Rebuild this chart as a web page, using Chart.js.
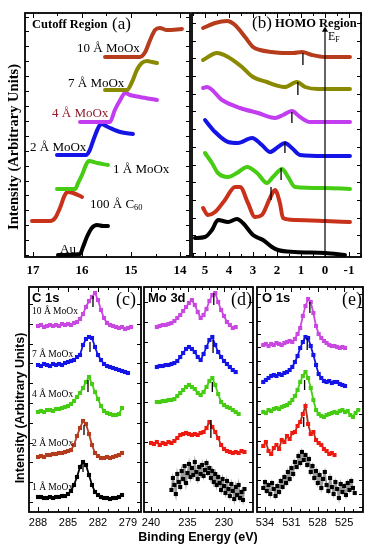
<!DOCTYPE html>
<html>
<head>
<meta charset="utf-8">
<script src="https://cdn.jsdelivr.net/npm/chart.js@4.4.1/dist/chart.umd.min.js"></script>
<style>
  body { margin: 0; background: #fff; }
  #fig { position: relative; width: 372px; height: 550px; overflow: hidden; }
  canvas { position: absolute; }
  .t { position: absolute; white-space: nowrap; line-height: 1; color: #000; transform: translateY(-50%); }
  .c { transform: translate(-50%, -50%); }
  .r { transform: translate(-50%, -50%) rotate(-90deg); }
  .serif { font-family: "Liberation Serif", "DejaVu Serif", serif; }
  .sans { font-family: "Liberation Sans", Arial, sans-serif; }
  .b { font-weight: bold; }
  sub { font-size: 0.65em; vertical-align: -0.3em; line-height: 0; }
</style>
</head>
<body>
<div id="fig">
  <canvas id="chartA" width="181" height="272" style="left:17px;top:7px"></canvas>
  <canvas id="chartB" width="185" height="272" style="left:184px;top:7px"></canvas>
  <canvas id="chartC" width="128" height="248" style="left:21px;top:282px"></canvas>
  <canvas id="chartD" width="125" height="248" style="left:136px;top:282px"></canvas>
  <canvas id="chartE" width="122" height="248" style="left:249px;top:282px"></canvas>

  <!-- top panels -->
  <div class="t r serif b" style="left:13px;top:147px;font-size:14.5px">Intensity (Arbitrary Units)</div>
  <div class="t serif b" style="left:32px;top:24px;font-size:12.5px">Cutoff Region</div>
  <div class="t serif" style="left:112px;top:23px;font-size:17px">(a)</div>
  <div class="t serif" style="left:77px;top:47px;font-size:13px">10 Å MoOx</div>
  <div class="t serif" style="left:68px;top:82px;font-size:13px">7 Å MoOx</div>
  <div class="t serif" style="left:52px;top:112px;font-size:13px;color:#8c1c2c">4 Å MoOx</div>
  <div class="t serif" style="left:30px;top:146px;font-size:13px">2 Å MoOx</div>
  <div class="t serif" style="left:113px;top:168px;font-size:13px">1 Å MoOx</div>
  <div class="t serif" style="left:90px;top:203px;font-size:13px">100 Å C<sub>60</sub></div>
  <div class="t serif" style="left:60px;top:248px;font-size:13px">Au</div>
  <div class="t serif" style="left:252px;top:22px;font-size:17px">(b)</div>
  <div class="t serif b" style="left:275px;top:23px;font-size:12.5px">HOMO Region</div>
  <div class="t serif" style="left:328px;top:36px;font-size:12px">E<sub>F</sub></div>

  <!-- bottom panels -->
  <div class="t r sans b" style="left:20px;top:408px;font-size:12.5px">Intensity (Arbitrary Units)</div>
  <div class="t c sans b" style="left:198px;top:537px;font-size:12.5px">Binding Energy (eV)</div>
  <div class="t sans b" style="left:32px;top:297px;font-size:13px">C 1s</div>
  <div class="t serif" style="left:116px;top:299px;font-size:18px">(c)</div>
  <div class="t sans b" style="left:148px;top:297px;font-size:13px">Mo 3d</div>
  <div class="t serif" style="left:231px;top:299px;font-size:18px">(d)</div>
  <div class="t sans b" style="left:262px;top:297px;font-size:13px">O 1s</div>
  <div class="t serif" style="left:342px;top:299px;font-size:18px">(e)</div>
  <div class="t serif" style="left:32px;top:312px;font-size:9.5px">10 Å MoOx</div>
  <div class="t serif" style="left:32px;top:355px;font-size:9.5px">7 Å MoOx</div>
  <div class="t serif" style="left:32px;top:395px;font-size:9.5px">4 Å MoOx</div>
  <div class="t serif" style="left:32px;top:444px;font-size:9.5px">2 Å MoOx</div>
  <div class="t serif" style="left:32px;top:488px;font-size:9.5px">1 Å MoOx</div>
</div>

<script>
"use strict";

//--tick labels--
const ticksA = [17, 16, 15, 14];
const ticksB = [5, 4, 3, 2, 1, 0, -1];
const ticksC = [288, 285, 282, 279];
const ticksD = [240, 235, 230];
const ticksE = [534, 531, 528, 525];

//--(a) cutoff region: kinetic energy (eV) / intensity (a.u., stacked)--
const cutAuE  = [16.49, 16.04, 15.98, 15.90, 15.80, 15.69, 15.57, 15.47];
const cutAu   = [2, 3, 10, 20, 29, 32, 31, 31];
const cutC60E = [17.02, 16.65, 16.55, 16.45, 16.35, 16.29, 16.18, 16.0];
const cutC60  = [36, 36, 39, 49, 62, 65, 64, 60];
const cut1E   = [16.51, 16.14, 16.08, 16.0, 15.92, 15.86, 15.69, 15.47];
const cut1    = [68, 68, 74, 82, 92, 96, 94, 92];
const cut2E   = [16.51, 15.92, 15.84, 15.76, 15.67, 15.61, 15.47, 15.22, 14.96];
const cut2    = [102, 102, 107, 118, 129, 133, 130, 125, 123];
const cut4E   = [16.04, 15.43, 15.33, 15.22, 15.12, 15.02, 14.82, 14.47];
const cut4    = [135, 135, 147, 157, 164, 162, 160, 157];
const cut7E   = [15.53, 15.08, 14.98, 14.88, 14.78, 14.67, 14.57, 14.47];
const cut7    = [167, 167, 175, 187, 194, 196, 195, 194];
const cut10E  = [15.53, 14.82, 14.71, 14.61, 14.51, 14.41, 14.27, 13.96];
const cut10   = [200, 200, 205, 217, 227, 229, 227, 228];

//--(b) HOMO region: binding energy (eV)--
const homo10E  = [5.08, 4.58, 4.08, 3.75, 3.33, 3.0, 2.71, 2.21, 1.79, 1.33, 0.96, 0.54, 0.0, -1.04];
const homo10   = [229, 234, 236, 232, 220, 210, 207, 205, 204, 204, 205, 202, 200, 200];
const homo7E   = [5.08, 4.5, 4.04, 3.46, 3.0, 2.42, 2.08, 1.67, 1.17, 0.83, 0.29, -1.04];
const homo7    = [197, 204, 200, 190, 180, 175, 172, 170, 175, 170, 168, 168];
const homo4E   = [5.08, 4.92, 4.29, 3.54, 2.79, 2.08, 1.75, 1.38, 1.04, 0.63, -1.04];
const homo4    = [169, 170, 157, 149, 144, 139, 142, 146, 140, 135, 135];
const homo2E   = [5.0, 4.58, 4.04, 3.63, 3.04, 2.63, 2.29, 1.96, 1.67, 1.38, 1.04, 0.0, -1.04];
const homo2    = [137, 125, 115, 114, 119, 112, 105, 110, 114, 109, 102, 101, 101];
const homo1E   = [5.0, 4.71, 4.46, 4.04, 3.67, 3.25, 2.83, 2.42, 2.17, 1.79, 1.54, 1.25, 0.0, -1.04];
const homo1    = [104, 94, 84, 80, 84, 90, 84, 74, 80, 88, 80, 70, 69, 68];
const homoC60E = [5.08, 4.88, 4.58, 4.17, 3.75, 3.54, 3.21, 2.92, 2.63, 2.29, 2.08, 1.88, 1.75, 1.25, 0.0, -1.04];
const homoC60  = [49, 42, 45, 57, 70, 70, 54, 40, 42, 59, 67, 54, 39, 37, 36, 35];
const homoAuE  = [5.42, 5.0, 4.71, 4.46, 4.04, 3.67, 3.42, 3.0, 2.58, 2.21, 1.96, 1.25, 0.0, -0.83];
const homoAu   = [19, 20, 27, 37, 35, 38, 34, 22, 17, 10, 7, 5, 4, 2];
// HOMO onset markers
const homoMarkE   = [0.92, 1.13, 1.38, 1.67, 1.83, 2.25];
const homoMarkTop = [204, 175, 145, 115, 89, 70];
const homoMarkBot = [192, 162, 134, 104, 77, 57];
const efTop = 227;

//--(c) C 1s--
const c1sE = [288.0, 287.7, 287.4, 287.1, 286.8, 286.5, 286.2, 285.9, 285.6, 285.3, 285.0, 284.7, 284.4, 284.1, 283.8, 283.5,
              283.2, 282.9, 282.6, 282.3, 282.0, 281.7, 281.4, 281.1, 280.8, 280.5, 280.2, 279.9, 279.6, 279.3, 279.0, 278.7];
const c1s10 = [186, 187, 185, 186, 187, 186, 187, 186, 188, 187, 188, 187, 189, 190, 193, 198,
               205, 211, 215, 219, 212, 202, 194, 189, 187, 186, 185, 184, 185, 183, 184, 185];
const c1s7  = [147, 146, 148, 147, 146, 148, 147, 148, 147, 149, 150, 151, 152, 155, 157, 167,
               173, 175, 174, 165, 157, 152, 148, 146, 145, 144, 143, 142, 141, 140, 139, null];
const c1s4  = [100, 101, 100, 102, 102, 101, 103, 103, 104, 105, 106, 108, 111, 115, 119, 124,
               130, 135, 128, 120, 113, 106, 101, 99, 98, 97, 97, 98, 104, null, null, null];
const c1s2  = [55, 56, 55, 57, 57, 58, 58, 59, 59, 60, 61, 62, 67, 76, 84, 91,
               88, 78, 67, 59, 56, 54, 54, 55, 54, 55, 56, 57, 59, null, null, null];
const c1s1  = [15, 15, 14, 14, 15, 14, 15, 15, 16, 16, 18, 21, 27, 35, 45, 50,
               47, 37, 27, 20, 17, 15, 14, 14, 13, 14, 14, 15, 17, null, null, null];
const c1sMarkE   = [282.5, 282.8, 283.0, 283.4, 283.5];
const c1sMarkTop = [216, 170, 132, 87, 49];
const c1sMarkBot = [205, 160, 120, 77, 40];

//--(d) Mo 3d--
const moE = [240.0, 239.6, 239.2, 238.8, 238.4, 238.0, 237.6, 237.2, 236.8, 236.4, 236.0, 235.6, 235.2, 234.8, 234.4, 234.0, 233.6,
             233.2, 232.8, 232.4, 232.0, 231.6, 231.2, 230.8, 230.4, 230.0, 229.6, 229.2, 228.8, 228.4, 228.0, 227.6, 227.2, 226.8];
const mo10 = [null, null, 185, 186, 187, 187, 188, 189, 191, 194, 197, 201, 205, 209, 212, 207, 200,
              194, 197, 203, 211, 217, 219, 210, 202, 196, 190, 187, 184, 185, null, null, null, null];
const mo7  = [null, null, 145, 146, 146, 147, 147, 148, 149, 151, 155, 159, 163, 165, 163, 160, 155,
              152, 158, 165, 172, 175, 167, 160, 155, 151, 148, 145, 142, 140, null, null, null, null];
const mo4  = [null, null, 110, 110, 111, 111, 112, 112, 113, 116, 119, 122, 125, 127, 125, 123, 119,
              117, 120, 125, 131, 134, 127, 118, 110, 107, 105, 104, 102, 100, 98, null, null, null];
const mo2  = [69, 68, 70, 67, 69, 68, 70, 69, 71, 74, 77, 78, 79, 78, 77, 78, 77,
              79, 80, 84, 90, 85, 80, 74, 67, 63, 61, 60, 59, 60, 59, 61, 60, null];
const moAuE = [237.2, 237.0, 236.8, 236.6, 236.4, 236.2, 236.0, 235.8, 235.6, 235.4, 235.2, 235.0, 234.8, 234.6, 234.4, 234.2, 234.0,
               233.8, 233.6, 233.4, 233.2, 233.0, 232.8, 232.6, 232.4, 232.2, 232.0, 231.8, 231.6, 231.4, 231.2, 231.0, 230.8,
               230.6, 230.4, 230.2, 230.0, 229.8, 229.6, 229.4, 229.2, 229.0, 228.8, 228.6, 228.4, 228.2, 228.0, 227.8, 227.6, 227.4, 227.2];
const moAu  = [22, 34, 27, 18, 38, 30, 25, 41, 33, 46, 29, 39, 48, 35, 44, 37, 50,
               40, 33, 45, 38, 47, 36, 42, 49, 39, 44, 34, 41, 30, 38, 27, 35,
               29, 22, 33, 26, 19, 31, 23, 16, 28, 21, 13, 25, 17, 27, 14, 20, 12, 23];
const moMarkE   = [231.4, 231.5, 231.6, 231.8];
const moMarkTop = [219, 172, 130, 92];
const moMarkBot = [207, 159, 120, 74];

//--(e) O 1s--
const oE = [534.2, 533.9, 533.6, 533.3, 533.0, 532.7, 532.4, 532.1, 531.8, 531.5, 531.2, 530.9, 530.6, 530.3, 530.0, 529.7, 529.4, 529.1, 528.8,
            528.5, 528.2, 527.9, 527.6, 527.3, 527.0, 526.7, 526.4, 526.1, 525.8, 525.5, 525.2, 524.9, 524.6, 524.3, 524.0, 523.7, 523.4];
const o10 = [167, 168, 166, 168, 167, 169, 168, 167, 169, 170, 171, 170, 173, 178, 184, 196, 206, 213, 210,
             199, 186, 178, 174, 171, 169, 167, 166, 166, 165, 164, 165, 164, null, null, null, null, null];
const o7  = [130, 132, 134, 136, 137, 136, 138, 137, 139, 140, 142, 145, 150, 156, 164, 170, 175, 174, 166,
             157, 147, 138, 134, 131, 130, 131, 129, 130, 130, 128, 127, 126, null, null, null, null, null];
const o4  = [100, 99, 102, 101, 103, 104, 103, 105, 106, 107, 109, 112, 116, 122, 130, 136, 140, 134, 124,
             112, 102, 98, 96, 95, 97, 98, 99, 100, 99, 101, 102, 100, 101, 97, 95, 99, 102];
const o2  = [66, 70, 61, 58, 64, 67, 63, 72, 70, 76, 73, 79, 80, 86, 90, 98, 106, 88, 78,
             80, 72, 69, 67, 63, 61, 58, 59, 57, null, null, null, null, null, null, null, null, null];
const oAuE = [534.2, 534.0, 533.8, 533.6, 533.4, 533.2, 533.0, 532.8, 532.6, 532.4, 532.2, 532.0, 531.8, 531.6, 531.4, 531.2, 531.0, 530.8,
              530.6, 530.4, 530.2, 530.0, 529.8, 529.6, 529.4, 529.2, 529.0, 528.8, 528.6, 528.4, 528.2, 528.0, 527.8, 527.6, 527.4, 527.2,
              527.0, 526.8, 526.6, 526.4, 526.2, 526.0, 525.8, 525.6, 525.4, 525.2, 525.0, 524.8, 524.6, 524.4, 524.2, 524.0, 523.8];
const oAu  = [24, 30, 21, 27, 18, 29, 23, 16, 26, 20, 31, 25, 35, 29, 40, 33, 44, 38,
              50, 45, 56, 49, 60, 52, 57, 47, 53, 40, 46, 34, 41, 29, 37, 24, 33, 40,
              27, 21, 34, 25, 18, 30, 23, 14, 28, 20, 26, 17, 29, 22, 31, 24, 19];
const oMarkE   = [528.9, 529.2, 529.5, 529.6];
const oMarkTop = [210, 174, 132, 95];
const oMarkBot = [199, 162, 122, 85];

//--colours--
const col = {
    d10: '#b63c1c', olive: '#8a8a00', mag: '#c23cf0', blue: '#1414e6', green: '#46cc12', red: '#c8321a', black: '#000',
    magB: '#c848e0', redC: '#b43c1e', redB: '#ee1a10'
};

//--helpers--
function pts(xs, ys) {
    const out = [];
    xs.forEach((x, i) => { if (ys[i] != null) out.push({x: x, y: ys[i]}); });
    return out;
}
function smooth(xs, ys, color) {
    return {data: pts(xs, ys), borderColor: color, borderWidth: 4, pointRadius: 0,
            cubicInterpolationMode: 'monotone', borderCapStyle: 'round', borderJoinStyle: 'round'};
}
function scan(xs, ys, color, lineColor) {
    return {data: pts(xs, ys), borderColor: lineColor || color, borderWidth: 1.8, tension: 0,
            pointStyle: 'rect', pointRadius: 2.9, pointBorderWidth: 0,
            pointBackgroundColor: color, pointBorderColor: color};
}
function markers(xs, tops, bots) {
    const data = [];
    xs.forEach((x, i) => { data.push({x: x, y: tops[i]}, {x: x, y: bots[i]}, {x: x, y: null}); });
    return {data: data, borderColor: '#000', borderWidth: 1.3, pointRadius: 0, spanGaps: false};
}

//frame + inward ticks
const framePlugin = {
    id: 'frame',
    afterDraw(chart, args, o) {
        const ctx = chart.ctx, a = chart.chartArea, x = chart.scales.x, y = chart.scales.y;
        ctx.save();
        ctx.strokeStyle = '#000';
        ctx.lineWidth = 1;
        ctx.beginPath();
        for (let v = Math.ceil(x.min / o.minor) * o.minor; v <= x.max + 1e-9; v += o.minor) {
            const px = Math.round(x.getPixelForValue(v)) + 0.5;
            const len = o.major.some(m => Math.abs(m - v) < 1e-6) ? 5 : 3;
            ctx.moveTo(px, a.bottom); ctx.lineTo(px, a.bottom - len);
            ctx.moveTo(px, a.top); ctx.lineTo(px, a.top + len);
        }
        for (let v = o.yStart; v <= y.max; v += o.yStep) {
            const py = Math.round(y.getPixelForValue(v)) + 0.5;
            ctx.moveTo(a.left, py); ctx.lineTo(a.left + 4, py);
            ctx.moveTo(a.right, py); ctx.lineTo(a.right - 4, py);
        }
        ctx.stroke();
        ctx.lineWidth = 1.8;
        ctx.strokeRect(a.left, a.top, a.right - a.left, a.bottom - a.top);
        ctx.restore();
    }
};

function makePanel(id, o) {
    return new Chart(document.getElementById(id), {
        type: 'line',
        data: {datasets: o.datasets},
        options: {
            responsive: false,
            animation: false,
            events: [],
            layout: {padding: o.pad},
            plugins: {
                legend: {display: false},
                tooltip: {enabled: false},
                frame: {major: o.ticks, minor: o.minor, yStart: o.yStart, yStep: o.yStep}
            },
            scales: {
                x: {
                    type: 'linear', reverse: true, min: o.xMin, max: o.xMax,
                    grid: {display: false, drawTicks: false},
                    border: {display: false},
                    afterBuildTicks: s => { s.ticks = o.ticks.map(v => ({value: v})); },
                    afterFit: s => { s.height = o.axisH; },
                    ticks: {autoSkip: false, maxRotation: 0, padding: o.tickPad, color: '#000', font: o.font}
                },
                y: {display: false, min: 0, max: o.yMax}
            }
        },
        plugins: [framePlugin]
    });
}

const topFont = {family: 'Liberation Serif', size: 13, weight: 'bold'};
const botFont = {family: 'Liberation Sans', size: 11};
const topPad = {left: 8, right: 8, top: 6, bottom: 2};
const botPad = {left: 8, right: 8, top: 5, bottom: 2};

//(a)
makePanel('chartA', {
    xMin: 13.796, xMax: 17.163, yMax: 244, ticks: ticksA, minor: 0.5, yStart: 2, yStep: 14.9,
    pad: topPad, axisH: 20, tickPad: 6, font: topFont,
    datasets: [
        smooth(cut10E, cut10, col.d10),
        smooth(cut7E, cut7, col.olive),
        smooth(cut4E, cut4, col.mag),
        smooth(cut2E, cut2, col.blue),
        smooth(cut1E, cut1, col.green),
        smooth(cutC60E, cutC60, col.red),
        smooth(cutAuE, cutAu, col.black)
    ]
});

//(b)
makePanel('chartB', {
    xMin: -1.5, xMax: 5.542, yMax: 244, ticks: ticksB, minor: 0.5, yStart: 4, yStep: 17.7,
    pad: topPad, axisH: 20, tickPad: 6, font: topFont,
    datasets: [
        markers(homoMarkE, homoMarkTop, homoMarkBot),
        {data: [{x: 0, y: 0}, {x: 0, y: efTop}], borderColor: '#000', borderWidth: 1.2,
         pointStyle: 'triangle', pointRadius: [0, 3.5], pointBackgroundColor: '#000', pointBorderWidth: 0},
        smooth(homo10E, homo10, col.d10),
        smooth(homo7E, homo7, col.olive),
        smooth(homo4E, homo4, col.mag),
        smooth(homo2E, homo2, col.blue),
        smooth(homo1E, homo1, col.green),
        smooth(homoC60E, homoC60, col.red),
        smooth(homoAuE, homoAu, col.black)
    ]
});

//(c)
makePanel('chartC', {
    xMin: 277.7, xMax: 288.9, yMax: 225, ticks: ticksC, minor: 1, yStart: 10, yStep: 19.8,
    pad: botPad, axisH: 16, tickPad: 4, font: botFont,
    datasets: [
        markers(c1sMarkE, c1sMarkTop, c1sMarkBot),
        scan(c1sE, c1s10, col.magB),
        scan(c1sE, c1s7, col.blue),
        scan(c1sE, c1s4, col.green),
        scan(c1sE, c1s2, col.redC),
        scan(c1sE, c1s1, col.black)
    ]
});

//(d)
makePanel('chartD', {
    xMin: 226.03, xMax: 240.96, yMax: 225, ticks: ticksD, minor: 1, yStart: 10, yStep: 20,
    pad: botPad, axisH: 16, tickPad: 4, font: botFont,
    datasets: [
        markers(moMarkE, moMarkTop, moMarkBot),
        scan(moE, mo10, col.magB),
        scan(moE, mo7, col.blue),
        scan(moE, mo4, col.green),
        scan(moE, mo2, col.redB, '#b0301a'),
        scan(moAuE, moAu, col.black, '#9a9a9a')
    ]
});

//(e)
makePanel('chartE', {
    xMin: 522.86, xMax: 534.91, yMax: 225, ticks: ticksE, minor: 1, yStart: 5, yStep: 13.3,
    pad: botPad, axisH: 16, tickPad: 4, font: botFont,
    datasets: [
        markers(oMarkE, oMarkTop, oMarkBot),
        scan(oE, o10, col.magB),
        scan(oE, o7, col.blue),
        scan(oE, o4, col.green),
        scan(oE, o2, col.redB, '#b0301a'),
        scan(oAuE, oAu, col.black, '#9a9a9a')
    ]
});
</script>
</body>
</html>
